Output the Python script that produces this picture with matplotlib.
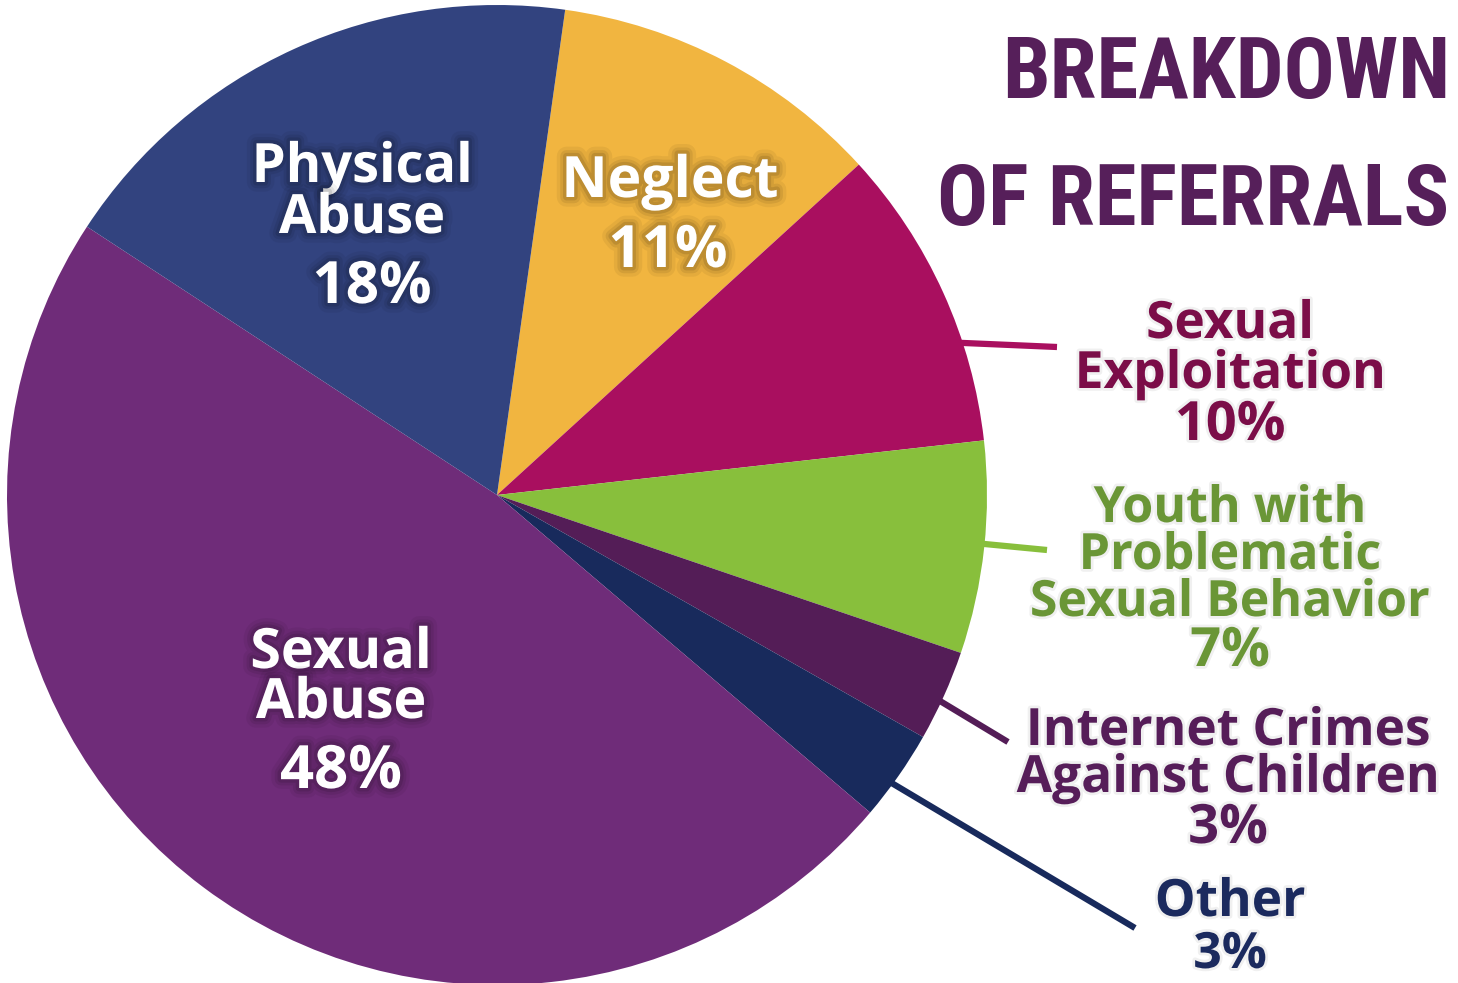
import matplotlib
matplotlib.use("Agg")
import matplotlib.pyplot as plt
import matplotlib.patheffects as pe
from matplotlib import font_manager

# Data
categories = ["Neglect", "Sexual Exploitation", "Youth with Problematic Sexual Behavior",
              "Internet Crimes Against Children", "Other", "Sexual Abuse", "Physical Abuse"]
values = [11, 10, 7, 3, 3, 48, 18]
slice_colors = ["#F1B540", "#A90F5F", "#88BF3C", "#541D57", "#182A5C", "#6F2C79", "#32437F"]

inside_labels = {"Physical Abuse": ["Physical", "Abuse"], "Neglect": ["Neglect"],
                 "Sexual Abuse": ["Sexual", "Abuse"]}
outside_labels = {"Sexual Exploitation": ["Sexual", "Exploitation"],
                  "Youth with Problematic Sexual Behavior": ["Youth with", "Problematic", "Sexual Behavior"],
                  "Internet Crimes Against Children": ["Internet Crimes", "Against Children"],
                  "Other": ["Other"]}
text_colors = {"Sexual Exploitation": "#7B0D48", "Youth with Problematic Sexual Behavior": "#6A9636",
               "Internet Crimes Against Children": "#561D59", "Other": "#1B2A5E"}

title_lines = ["BREAKDOWN", "OF REFERRALS"]

W, H = 1458, 983

available = {f.name for f in font_manager.fontManager.ttflist}


def pick(names, default="DejaVu Sans"):
    for n in names:
        if n in available:
            return n
    return default


label_font = pick(["Open Sans", "Lato", "Inter", "Noto Sans"])
title_font = pick(["Roboto Condensed", "Liberation Sans Narrow", "DejaVu Sans Condensed", "Liberation Sans"])

fig = plt.figure(figsize=(W / 100, H / 100), dpi=100)
ax = fig.add_axes([0, 0, 1, 1])


def Y(y):
    # convert image y (from top) to axes y
    return H - y


ax.pie(values, colors=slice_colors, startangle=82, counterclock=False,
       center=(497, Y(495)), radius=490, wedgeprops=dict(linewidth=0))
ax.set_xlim(0, W)
ax.set_ylim(0, H)
ax.set_aspect("equal")
ax.axis("off")

glow = [pe.Stroke(linewidth=14, foreground="black", alpha=0.05),
        pe.Stroke(linewidth=9, foreground="black", alpha=0.07),
        pe.Stroke(linewidth=5, foreground="black", alpha=0.1),
        pe.Normal()]
soft = [pe.Stroke(linewidth=4, foreground="black", alpha=0.06), pe.Normal()]

# leader lines (image coords)
leaders = {"Sexual Exploitation": [(848, 338), (1057, 347)],
           "Youth with Problematic Sexual Behavior": [(860, 532), (1047, 550)],
           "Internet Crimes Against Children": [(872, 660), (1008, 742)],
           "Other": [(848, 757), (1135, 928)]}
for name, pts in leaders.items():
    c = slice_colors[categories.index(name)]
    (x0, y0), (x1, y1) = pts
    ax.plot([x0, x1], [Y(y0), Y(y1)], color=c, lw=4.5, solid_capstyle="butt", zorder=3)


def lines_at(x, baselines, lines, size, color, effects):
    for yb, s in zip(baselines, lines):
        ax.text(x, Y(yb), s, ha="center", va="baseline", fontsize=size, color=color,
                family=label_font, fontweight="bold", path_effects=effects, zorder=5)


def pct(name):
    return f"{values[categories.index(name)]}%"


# inside labels
lines_at(362, [182, 233], inside_labels["Physical Abuse"], 39, "white", glow)
lines_at(372, [303], [pct("Physical Abuse")], 42, "white", glow)
lines_at(670, [197], inside_labels["Neglect"], 41, "white", glow)
lines_at(668, [267], [pct("Neglect")], 42, "white", glow)
lines_at(341, [668, 718], inside_labels["Sexual Abuse"], 40, "white", glow)
lines_at(341, [788], [pct("Sexual Abuse")], 43, "white", glow)

# outside labels: (x, text baselines, percent baseline, text size, percent size)
out_pos = {"Sexual Exploitation": (1230, [338, 388], 440, 37, 39),
           "Youth with Problematic Sexual Behavior": (1230, [522, 569, 616], 666, 36, 39),
           "Internet Crimes Against Children": (1228, [745, 792], 843, 37, 39),
           "Other": (1230, [916], 968, 37, 36)}
for name, (x, bls, pb, fs, ps) in out_pos.items():
    col = text_colors[name]
    lines_at(x, bls, outside_labels[name], fs, col, soft)
    lines_at(x, [pb], [pct(name)], ps, col, soft)

# title: fit both lines inside the right edge
renderer = fig.canvas.get_renderer()
title_left = [1002, 937]
title_center = [68, 195]
base_size = 88
widths = []
for s in title_lines:
    t = ax.text(0, 0, s, fontsize=base_size, family=title_font, fontweight="bold")
    widths.append(t.get_window_extent(renderer).width)
    t.remove()
scale = min((W - 8 - l) / w for l, w in zip(title_left, widths))
size = base_size * min(scale, 1.0)
cap = size * 100 / 72 * 0.71
for s, l, c in zip(title_lines, title_left, title_center):
    ax.text(l, Y(c + cap / 2), s, ha="left", va="baseline", fontsize=size,
            color="#561F5A", family=title_font, fontweight="bold")

fig.savefig("out.png", dpi=100)
